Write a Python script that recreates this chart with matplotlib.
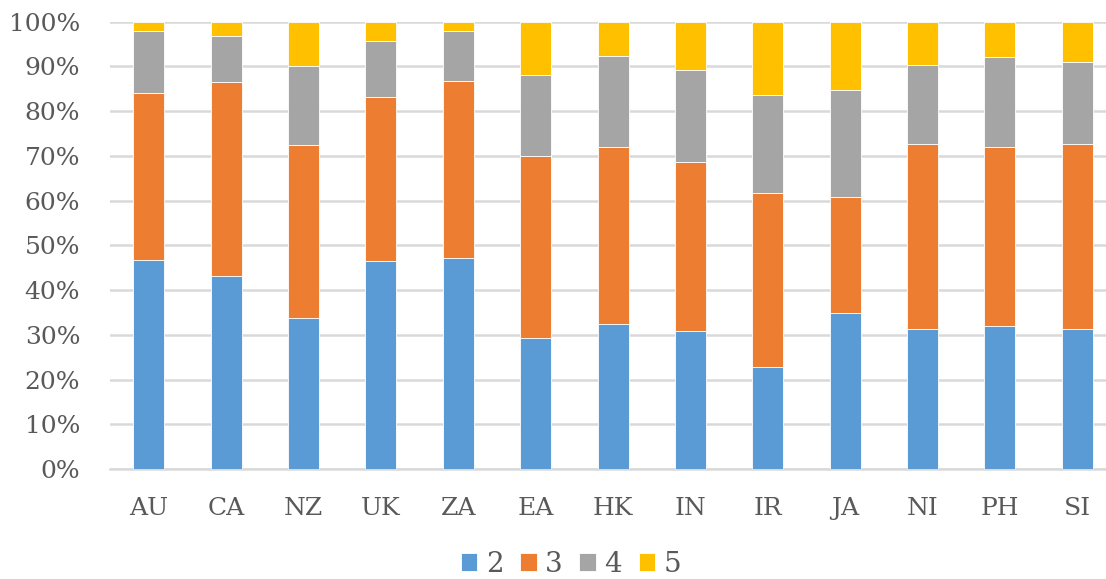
import numpy as np
import matplotlib as mpl
mpl.use('Agg')
import matplotlib.pyplot as plt
from matplotlib.ticker import PercentFormatter

mpl.rcParams['font.family'] = ['DejaVu Serif']
mpl.rcParams['font.size'] = 18

# 类别和各等级所占比例（%）
categories = ['AU', 'CA', 'NZ', 'UK', 'ZA', 'EA', 'HK', 'IN', 'IR', 'JA', 'NI', 'PH', 'SI']
s2 = [46.7, 43.2, 33.7, 46.4, 47.1, 29.3, 32.4, 30.8, 22.8, 34.9, 31.4, 31.9, 31.4]
s3 = [37.4, 43.3, 38.8, 36.8, 39.7, 40.6, 39.6, 37.9, 38.8, 25.8, 41.3, 40.0, 41.3]
s4 = [13.9, 10.2, 17.5, 12.4, 11.2, 18.1, 20.4, 20.5, 22.0, 24.0, 17.7, 20.1, 18.4]
s5 = [2.0, 3.3, 10.0, 4.4, 2.0, 12.0, 7.6, 10.8, 16.4, 15.3, 9.6, 8.0, 8.9]
series_names = ['2', '3', '4', '5']
colors = ['#5B9BD5', '#ED7D31', '#A5A5A5', '#FFC000']

fig = plt.figure(figsize=(11.06, 5.79), dpi=100)
ax = fig.add_axes([110/1106, 1-469/579, 1-110/1106, (469-21.7)/579])

x = np.arange(len(categories))
bottom = np.zeros(len(categories))
for name, vals, c in zip(series_names, [s2, s3, s4, s5], colors):
    vals = np.array(vals)
    ax.bar(x, vals, 0.4, bottom=bottom, color=c, label=name,
           edgecolor='white', linewidth=0.6, zorder=3)
    bottom += vals

ax.set_ylim(0, 100)
ax.set_xlim(-0.5, 12.37)
ax.set_yticks(np.arange(0, 101, 10))
ax.yaxis.set_major_formatter(PercentFormatter(decimals=0))
ax.set_xticks(x)
ax.set_xticklabels(categories)
ax.grid(axis='y', color='#D9D9D9', linewidth=1.8, zorder=0)
for s in ['top', 'right', 'left']:
    ax.spines[s].set_visible(False)
ax.spines['bottom'].set_color('#D9D9D9')
ax.spines['bottom'].set_linewidth(1.8)
ax.tick_params(axis='both', length=0, colors='#595959')
ax.tick_params(axis='y', pad=21.5)
ax.tick_params(axis='x', pad=20.5)

fig.legend(loc='center', bbox_to_anchor=(571/1106, 1-564/579), ncol=4, frameon=False,
           handlelength=0.6, handleheight=0.6, handletextpad=0.3, columnspacing=0.6,
           labelcolor='#595959', fontsize=20)

fig.savefig('out.png', dpi=100)
